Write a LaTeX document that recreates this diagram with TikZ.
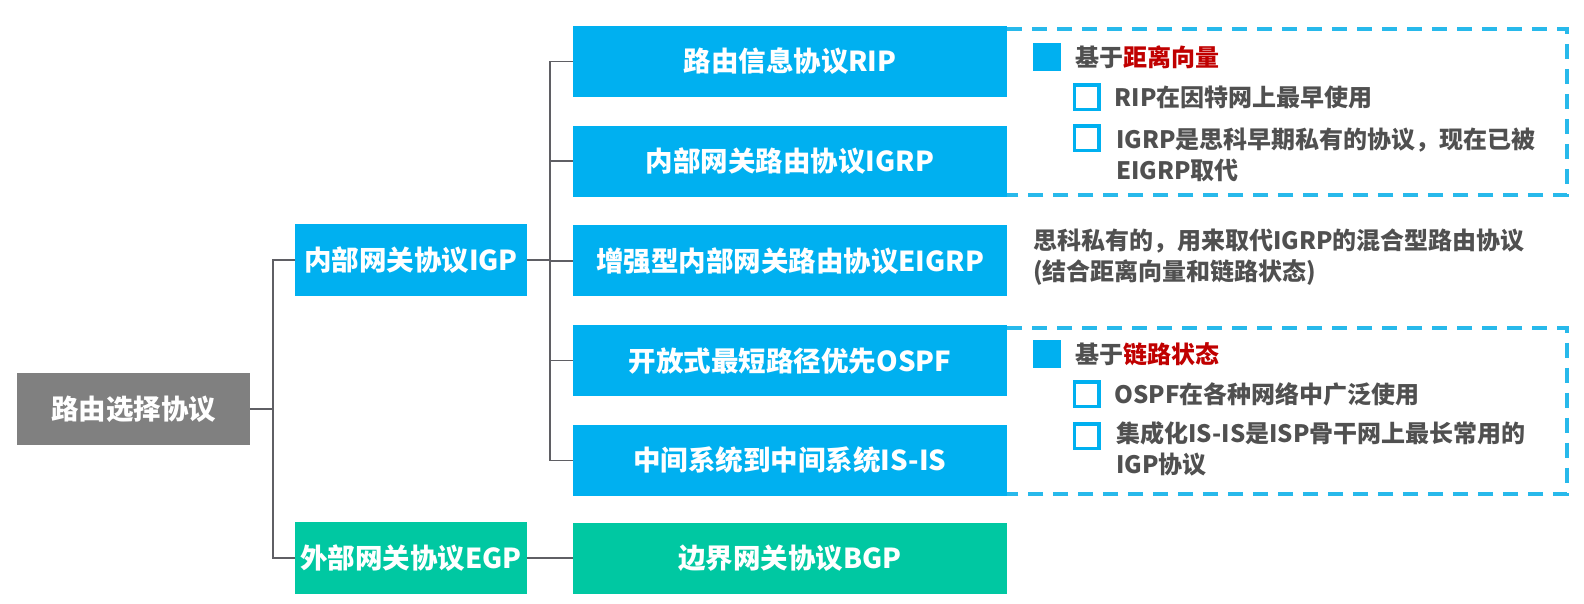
\documentclass[tikz,border=0pt]{standalone}
\usepackage{fontspec}
\setmainfont{Noto Sans CJK SC}
\usetikzlibrary{positioning, calc}
\definecolor{colRoot}{RGB}{128,128,128}
\definecolor{colIgp}{RGB}{0,176,240}
\definecolor{colEgp}{RGB}{0,200,162}
\definecolor{colDash}{RGB}{40,185,235}
\definecolor{colLine}{RGB}{95,95,100}
\definecolor{colText}{RGB}{80,80,80}
\definecolor{colKey}{RGB}{192,0,0}
\tikzset{
  box/.style={
    rectangle, text=white, inner sep=0pt,
    font=\fontsize{27.5}{32}\selectfont\bfseries,
    minimum height=71pt
  },
  rootBox/.style={box, fill=colRoot, minimum width=233pt, minimum height=72pt},
  igpBox/.style={box, fill=colIgp, minimum width=232pt, minimum height=72pt},
  egpBox/.style={box, fill=colEgp, minimum width=232pt, minimum height=72pt},
  leafBox/.style={box, fill=colIgp, minimum width=434pt},
  bgpBox/.style={box, fill=colEgp, minimum width=434pt},
  link/.style={draw=colLine, line width=1.5pt},
  group/.style={draw=colDash, line width=4pt, dash pattern=on 15pt off 10pt},
  fullBullet/.style={rectangle, fill=colIgp, inner sep=0pt, minimum size=28pt},
  hollowBullet/.style={rectangle, draw=colIgp, line width=3.5pt, inner sep=0pt, minimum size=24.5pt},
  sideText/.style={
    font=\fontsize{24}{31}\selectfont\bfseries, text=colText,
    inner sep=0pt, align=left
  }
}

\begin{document}
\begin{tikzpicture}[x=1pt, y=-1pt]
  \useasboundingbox (0,0) rectangle (1584,603);

  \node[rootBox] (root) at (133.5,409) {路由选择协议};
  \node[igpBox] (igp) at (411,260) {内部网关协议IGP};
  \node[egpBox] (egp) at (411,558) {外部网关协议EGP};

  \node[leafBox] (rip) at (790,61.5) {路由信息协议RIP};
  \node[leafBox, below=28.3pt of rip] (igrp) {内部网关路由协议IGRP};
  \node[leafBox, below=28.3pt of igrp] (eigrp) {增强型内部网关路由协议EIGRP};
  \node[leafBox, below=28.3pt of eigrp] (ospf) {开放式最短路径优先OSPF};
  \node[leafBox, below=28.3pt of ospf] (isis) {中间系统到中间系统IS-IS};
  \node[bgpBox] (bgp) at (rip |- egp) {边界网关协议BGP};

  % root -> IGP / EGP
  \coordinate (rootFork) at ($(root.east)+(23,0)$);
  \draw[link] (root.east) -- (rootFork);
  \draw[link] (rootFork) |- (igp.west);
  \draw[link] (rootFork) |- (egp.west);

  % IGP -> its protocols
  \coordinate (igpFork) at ($(igp.east)+(23,0)$);
  \draw[link] (igp.east) -- (igpFork);
  \foreach \n in {rip, igrp, eigrp, ospf, isis}
    \draw[link] (igpFork) |- (\n.west);

  % EGP -> BGP
  \draw[link] (egp.east) -- (bgp.west);

  % distance vector group
  \draw[group] ($(rip.north east)+(0,3)$) -- ++(560,0) |- ($(igrp.south east)+(0,-2)$);
  \node[fullBullet] (sqA) at (1047,57) {};
  \node[sideText, right=14pt of sqA] (vecHead) {基于\textcolor{colKey}{距离向量}};
  \node[hollowBullet] (sqA1) at (1086.5,97) {};
  \node[sideText, right=14pt of sqA1] (ripNote) {RIP在因特网上最早使用};
  \node[hollowBullet] (sqA2) at (1086.5,138) {};
  \node[sideText, anchor=west] (igrpNote) at (1116,155) {IGRP是思科早期私有的协议，现在已被\\EIGRP取代};

  % EIGRP note
  \node[sideText, anchor=west] (eigrpNote) at (1033,257) {思科私有的，用来取代IGRP的混合型路由协议\\(结合距离向量和链路状态)};

  % link state group
  \draw[group] ($(ospf.north east)+(0,3)$) -- ++(560,0) |- ($(isis.south east)+(0,-2)$);
  \node[fullBullet] (sqB) at (1047,354) {};
  \node[sideText, right=14pt of sqB] (lsHead) {基于\textcolor{colKey}{链路状态}};
  \node[hollowBullet] (sqB1) at (1086.5,394) {};
  \node[sideText, right=14pt of sqB1] (ospfNote) {OSPF在各种网络中广泛使用};
  \node[hollowBullet] (sqB2) at (1086.5,436) {};
  \node[sideText, anchor=west] (isisNote) at (1116,449) {集成化IS-IS是ISP骨干网上最长常用的\\IGP协议};
\end{tikzpicture}
\end{document}
